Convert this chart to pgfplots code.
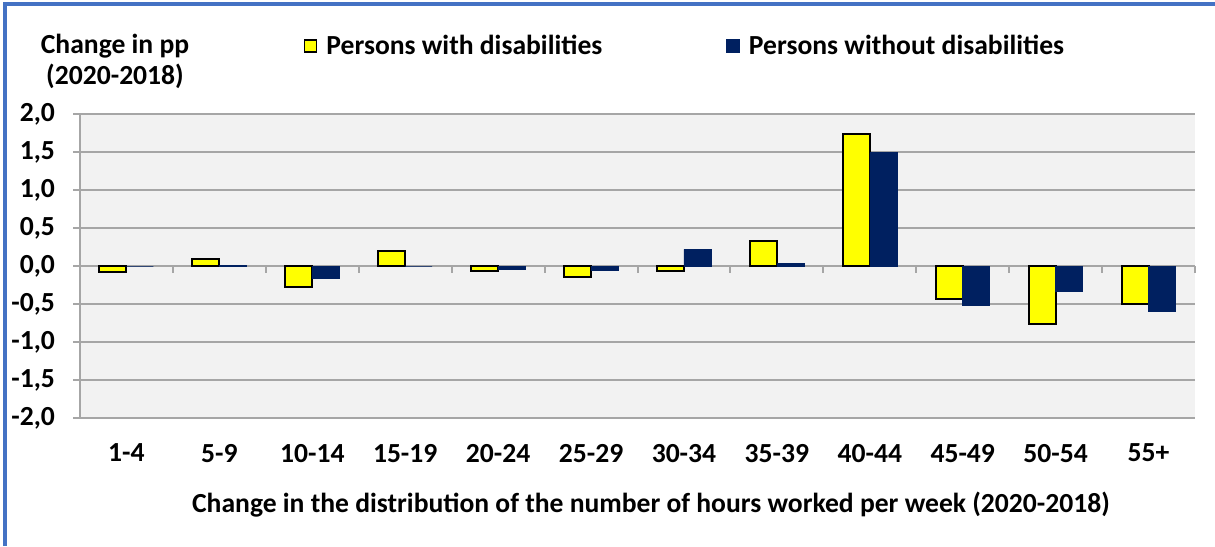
\documentclass[border=0pt]{standalone}
\usepackage{pgfplots}
\pgfplotsset{compat=1.18}
\usepackage{fontspec}
\setmainfont{Carlito}
\definecolor{bgc}{HTML}{F2F2F2}
\definecolor{gridc}{HTML}{A6A6A6}
\definecolor{navyc}{HTML}{002060}
\definecolor{yel}{HTML}{FFFF00}
\definecolor{framec}{HTML}{4472C4}
\newcommand\f{\fontsize{13.8}{15.5}\selectfont\bfseries}
\begin{document}
\begin{tikzpicture}
\useasboundingbox (0,0) rectangle (607.5pt,273pt);
\fill[white] (0,0) rectangle (607.5pt,273pt);
\draw[framec, line width=2pt] (2.5pt,0) -- (2.5pt,271pt) -- (607.5pt,271pt);
\begin{axis}[
  at={(40pt,64pt)}, anchor=south west,
  scale only axis, width=557.5pt, height=152pt,
  ybar=0pt, bar width=13.5pt,
  xmin=-0.5, xmax=11.5, ymin=-2, ymax=2,
  xtick={0,...,11},
  xticklabels={1-4,5-9,10-14,15-19,20-24,25-29,30-34,35-39,40-44,45-49,50-54,55+},
  ytick={-2,-1.5,-1,-0.5,0,0.5,1,1.5,2},
  yticklabels={{-2,0},{-1,5},{-1,0},{-0,5},{0,0},{0,5},{1,0},{1,5},{2,0}},
  ticklabel style={font=\f},
  xticklabel style={yshift=-6pt},
  yticklabel style={xshift=-5.5pt},
  axis lines*=left,
  x axis line style={draw=none},
  y axis line style={gridc, line width=1pt},
  xtick style={draw=none},
  ytick style={gridc, line width=1pt},
  tick align=outside, major tick length=3.5pt,
  ymajorgrids, grid style={gridc, line width=1pt},
  axis background/.style={fill=bgc},
  clip=false,
  legend style={at={(0.195,1.224)}, anchor=west, draw=none, fill=none,
    font=\f, legend columns=2,
    /tikz/every odd column/.append style={column sep=2.5pt},
    /tikz/every even column/.append style={column sep=60pt}},
  legend image code/.code={\draw[#1, line width=0.8pt] (0pt,-3pt) rectangle (6pt,3pt);},
]
\addplot[fill=yel, draw=black, line width=1pt] coordinates {
(0,-0.08) (1,0.09) (2,-0.27) (3,0.20) (4,-0.07) (5,-0.15) (6,-0.07) (7,0.33) (8,1.74) (9,-0.44) (10,-0.76) (11,-0.50)};
\addlegendentry{Persons with disabilities}
\addplot[fill=navyc, draw=navyc, line width=0.3pt] coordinates {
(0,0.0) (1,0.01) (2,-0.16) (3,0.0) (4,-0.04) (5,-0.06) (6,0.22) (7,0.03) (8,1.49) (9,-0.52) (10,-0.33) (11,-0.60)};
\addlegendentry{Persons without disabilities}
\pgfplotsinvokeforeach{0.5,1.5,2.5,3.5,4.5,5.5,6.5,7.5,8.5,9.5,10.5,11.5}{
  \draw[gridc, line width=1pt] (axis cs:#1,0) -- ++(0pt,-3.5pt);
}
\end{axis}
\node[font=\f, align=center] at (57.5pt,242.5pt) {Change in pp\\(2020-2018)};
\node[font=\f] at (325.5pt,20.5pt) {Change in the distribution of the number of hours worked per week (2020-2018)};
\end{tikzpicture}
\end{document}
